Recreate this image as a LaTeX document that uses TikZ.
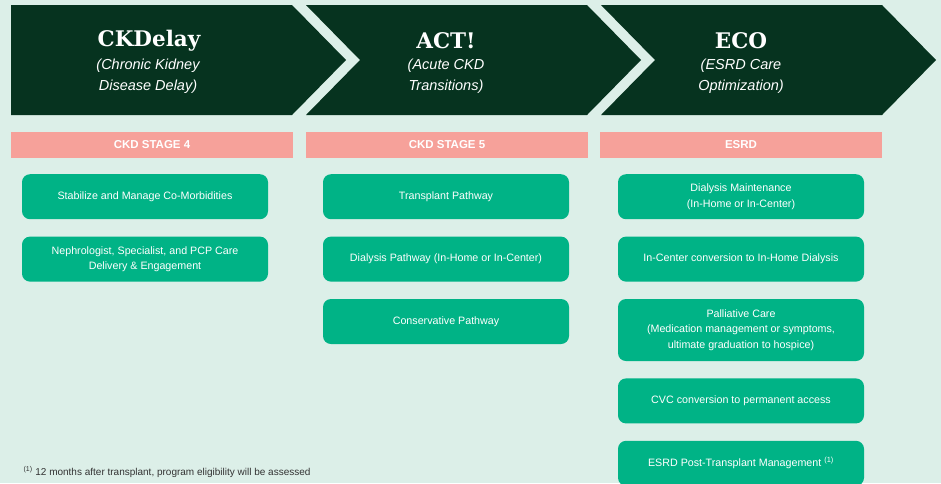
\documentclass[tikz,border=0pt]{standalone}
\usepackage{fontspec}
\setmainfont{Liberation Sans}
\newfontfamily\chutieude{DejaVu Serif}
\usetikzlibrary{positioning}
\definecolor{nen}{HTML}{DCEFE8}
\definecolor{xanhdam}{HTML}{06331F}
\definecolor{hong}{HTML}{F6A19A}
\definecolor{xanhla}{HTML}{00B386}
\definecolor{chuxam}{HTML}{333333}
\begin{document}
\begin{tikzpicture}[x=1pt,y=-1pt,node distance=17pt,
	tieude/.style={text=white,font=\chutieude\bfseries\fontsize{21.5}{24}\selectfont},
	phude/.style={text=white,align=center,font=\itshape\fontsize{14.5}{21}\selectfont},
	thanh/.style={fill=hong,minimum width=282pt,minimum height=26pt,inner sep=0pt,text=white,font=\bfseries\fontsize{11.5}{12}\selectfont},
	hop/.style={fill=xanhla,rounded corners=8pt,minimum width=246pt,minimum height=45pt,inner sep=2pt,text=white,align=center,font=\fontsize{10.7}{15.5}\selectfont}]
				\fill[nen] (0,0) rectangle (941,483);
				\useasboundingbox (0,0) rectangle (941,483);
				\fill[xanhdam] (11,5)--(292,5)--(346,60)--(292,115)--(11,115)--cycle;
				\foreach 
				\x in {306,601} \fill[xanhdam] (\x,5)--(\x+281,5)--(\x+335,60)--(\x+281,115)--(\x,115)--(\x+54,60)--cycle;
				\node[tieude] (ckdelay) at (149,41) {CKDelay};
				\node[phude] (ckdelayp) at (148,76) {(Chronic Kidney\\Disease Delay)};
				\node[tieude] (act) at (446,41) {ACT!};
				\node[phude] (actp) at (446,76) {(Acute CKD\\Transitions)};
				\node[tieude] (eco) at (741,41) {ECO};
				\node[phude] (ecop) at (741,76) {(ESRD Care\\Optimization)};
				\node[thanh] (gd4) at (152,145) {CKD STAGE 4};
				\node[thanh] (gd5) at (447,145) {CKD STAGE 5};
				\node[thanh] (esrd) at (741,145) {ESRD};
				% cot 1
				\node[hop,anchor=north] (a1) at (145,174) {Stabilize and Manage Co-Morbidities};
				\node[hop,below=of a1] (a2) {Nephrologist, Specialist, and PCP Care\\Delivery \& Engagement};
				% cot 2
				\node[hop,anchor=north] (b1) at (446,174) {Transplant Pathway};
				\node[hop,below=of b1] (b2) {Dialysis Pathway (In-Home or In-Center)};
				\node[hop,below=of b2] (b3) {Conservative Pathway};
				% cot 3
				\node[hop,anchor=north] (c1) at (741,174) {Dialysis Maintenance\\(In-Home or In-Center)};
				\node[hop,below=of c1] (c2) {In-Center conversion to In-Home Dialysis};
				\node[hop,below=of c2,minimum height=62pt] (c3) {Palliative Care\\(Medication management or symptoms,\\ultimate graduation to hospice)};
				\node[hop,below=of c3] (c4) {CVC conversion to permanent access};
				\node[hop,below=of c4] (c5) {ESRD Post-Transplant Management \textsuperscript{(1)}};
				\node[anchor=base west,text=chuxam,font=\fontsize{10}{12}\selectfont] (chuthich) at (20,475) {\textsuperscript{(1)} 12 months after transplant, program eligibility will be assessed};
			\end{tikzpicture}
\end{document}
